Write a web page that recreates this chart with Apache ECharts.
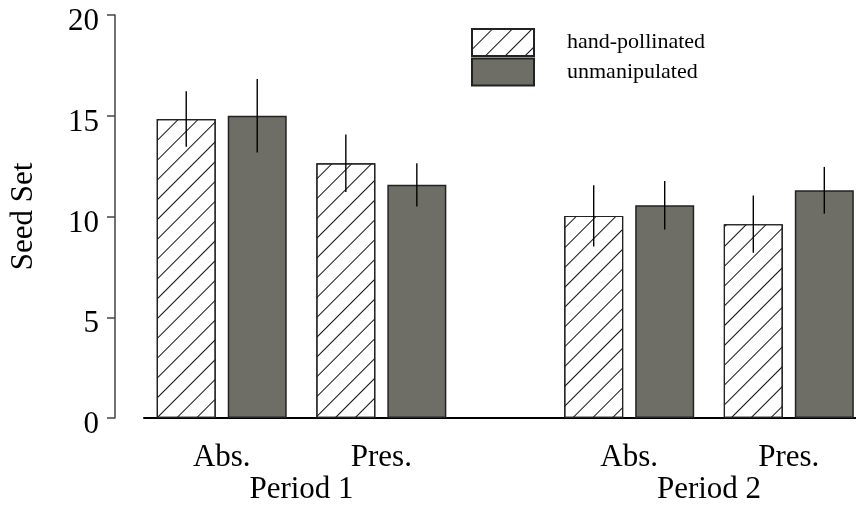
<!DOCTYPE html>
<html>
<head>
<meta charset="utf-8">
<script src="https://cdn.jsdelivr.net/npm/echarts@6/dist/echarts.min.js"></script>
<style>
  html, body { margin: 0; padding: 0; background: #fff; }
  #chart { width: 856px; height: 508px; }
</style>
</head>
<body>
<div id="chart"></div>
<script>
// seed set per treatment, periods 1 and 2
const treatments = ['Abs.', 'Pres.', 'Abs.', 'Pres.'];
const periods = ['Period 1', 'Period 2'];
const groupX = [1, 2, 3.553, 4.553];
const handMean = [14.84, 12.64, 10.03, 9.62];
const handErr = [1.38, 1.43, 1.52, 1.42];
const unmanMean = [15.0, 11.57, 10.56, 11.3];
const unmanErr = [1.83, 1.07, 1.2, 1.16];
const yTicks = [0, 5, 10, 15, 20];

const FONT = "'Liberation Serif', 'Times New Roman', serif";
const BAR_W = 59;
const BAR_GAP = 12;
const periodX = [(groupX[0] + groupX[1]) / 2, (groupX[2] + groupX[3]) / 2];

const chart = echarts.init(document.getElementById('chart'));

const errData = [];
groupX.forEach((x, i) => {
    errData.push([x, handMean[i], handErr[i], -1]);
    errData.push([x, unmanMean[i], unmanErr[i], 1]);
});

const option = {
    animation: false,
    backgroundColor: '#fff',
    textStyle: { fontFamily: FONT },
    legend: {
        orient: 'vertical',
        left: 466,
        top: 23,
        icon: 'rect',
        itemWidth: 62,
        itemHeight: 27,
        itemGap: 0.5,
        data: ['hand-pollinated', 'unmanipulated'],
        textStyle: { fontFamily: FONT, fontSize: 22, color: '#000', padding: [0, 0, 0, 28] }
    },
    grid: { left: 144, right: 0, top: 15, bottom: 90 },
    xAxis: [
        {
            type: 'value',
            min: 0.513,
            max: 4.974,
            splitLine: { show: false },
            axisLine: { show: true, onZero: false, lineStyle: { color: '#000', width: 2 } },
            axisTick: { show: false },
            axisLabel: {
                customValues: groupX,
                margin: 24,
                fontSize: 31,
                fontFamily: FONT,
                color: '#000',
                formatter: (v) => treatments[groupX.indexOf(v)]
            }
        },
        {
            type: 'value',
            position: 'bottom',
            min: 0.513,
            max: 4.974,
            splitLine: { show: false },
            axisLine: { show: false },
            axisTick: { show: false },
            axisLabel: {
                customValues: periodX,
                margin: 56,
                fontSize: 31,
                fontFamily: FONT,
                color: '#000',
                formatter: (v) => periods[periodX.indexOf(v)]
            }
        }
    ],
    yAxis: {
        type: 'value',
        min: 0,
        max: 20,
        interval: 5,
        offset: 29,
        name: 'Seed Set',
        nameLocation: 'middle',
        nameGap: 76,
        nameTextStyle: { fontSize: 31, fontFamily: FONT, color: '#000' },
        splitLine: { show: false },
        axisLine: { show: true, lineStyle: { color: '#444', width: 1.5 } },
        axisTick: { show: true, length: 8, lineStyle: { color: '#444', width: 1.5 } },
        axisLabel: {
            margin: 16,
            verticalAlign: 'top',
            lineHeight: 14,
            fontSize: 31,
            fontFamily: FONT,
            color: '#000',
            customValues: yTicks
        }
    },
    series: [
        {
            name: 'hand-pollinated',
            type: 'bar',
            barWidth: BAR_W,
            barGap: (BAR_GAP / BAR_W * 100) + '%',
            data: groupX.map((x, i) => [x, handMean[i]]),
            itemStyle: {
                color: '#fff',
                borderColor: '#222',
                borderWidth: 1.2,
                decal: {
                    symbol: 'rect',
                    symbolSize: 1,
                    color: '#111',
                    dashArrayX: [1, 0],
                    dashArrayY: [0.8, 12.8],
                    rotation: -Math.PI / 4
                }
            }
        },
        {
            name: 'unmanipulated',
            type: 'bar',
            barWidth: BAR_W,
            data: groupX.map((x, i) => [x, unmanMean[i]]),
            itemStyle: { color: '#6e6e66', borderColor: '#222', borderWidth: 1.5 }
        },
        {
            type: 'custom',
            z: 5,
            data: errData,
            renderItem: (params, api) => {
                const hi = api.coord([api.value(0), api.value(1) + api.value(2)]);
                const lo = api.coord([api.value(0), api.value(1) - api.value(2)]);
                const dx = api.value(3) * (BAR_W + BAR_GAP) / 2;
                return {
                    type: 'line',
                    shape: { x1: hi[0] + dx, y1: hi[1], x2: lo[0] + dx, y2: lo[1] },
                    style: { stroke: '#000', lineWidth: 1.4 }
                };
            }
        }
    ]
};

chart.setOption(option);
</script>
</body>
</html>
